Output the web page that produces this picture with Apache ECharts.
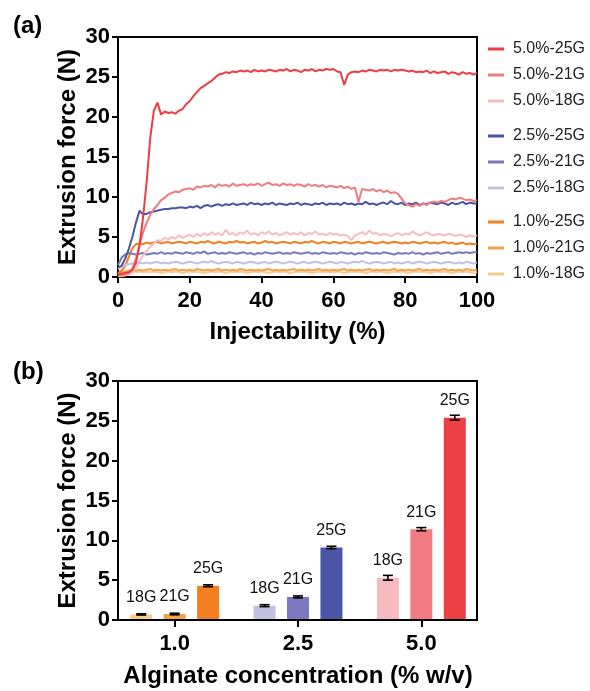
<!DOCTYPE html>
<html><head><meta charset="utf-8">
<script src="https://cdn.jsdelivr.net/npm/echarts@6/dist/echarts.min.js"></script>
<style>html,body{margin:0;padding:0;background:#fff}#c{width:590px;height:691px}</style>
</head><body><div id="c"></div>
<script>
const F = '"Liberation Sans", Arial, Helvetica, sans-serif';

// ---- Panel (a): extrusion force vs injectability (0..100 %, 1 % steps) ----
const injectability = Array.from({length: 101}, (_, i) => i);

const f50_25G = [0.3,0.4,0.5,0.6,0.9, 1.8,4.0,7.5,12.0,17.5, 20.8,21.8,20.3,20.7,20.5, 20.6,20.4,20.8,21.0,21.6,
 22.0,22.6,23.1,23.6,23.9, 24.2,24.5,24.9,25.3,25.4, 25.6,25.5,25.7,25.6,25.8, 25.7,25.8,25.6,25.9,25.7,
 25.8,25.7,25.9,25.8,25.7, 25.9,25.8,26.0,25.7,25.9, 25.8,25.6,25.9,25.8,26.0, 25.7,25.9,25.8,26.0,25.9,
 26.0,25.7,25.6,24.0,25.3, 25.6,25.7,25.6,25.8,25.7, 25.9,25.8,25.7,25.9,25.8, 25.9,25.7,25.9,25.8,25.9,
 25.8,25.7,25.8,25.6,25.7, 25.6,25.8,25.5,25.7,25.5, 25.6,25.7,25.4,25.6,25.5, 25.3,25.6,25.4,25.5,25.3, 25.5];
const f50_21G = [0.2,0.2,0.3,0.5,1.0, 2.3,4.0,5.6,6.8,7.8, 8.5,9.0,9.6,9.9,10.3, 10.5,10.7,10.6,10.9,11.0,
 11.1,10.9,11.3,11.2,11.4, 11.3,11.5,11.2,11.6,11.4, 11.5,11.3,11.7,11.4,11.5, 11.6,11.4,11.6,11.5,11.7,
 11.4,11.6,11.8,11.5,11.6, 11.4,11.7,11.5,11.6,11.4, 11.6,11.5,11.3,11.6,11.4, 11.5,11.3,11.5,11.2,11.4,
 11.3,11.2,11.4,11.1,11.3, 11.0,11.2,9.4,11.0,10.9, 10.8,11.0,10.7,10.9,10.6, 10.8,10.5,10.6,10.4,9.8,
 9.2,9.0,8.8,9.1,8.9, 9.2,9.0,9.3,9.4,9.3, 9.5,9.4,9.6,9.8,9.7, 9.9,9.8,9.6,9.7,9.5, 9.6];
const f50_18G = [0.1,0.1,0.2,0.3,0.6, 1.2,2.0,2.7,3.3,3.8, 4.2,4.6,4.5,4.9,4.7, 5.0,4.8,5.2,4.9,5.1,
 5.3,5.0,5.4,5.1,5.5, 5.2,5.6,5.3,5.5,5.2, 5.9,5.3,5.5,5.2,5.6, 5.4,5.8,5.3,5.5,5.2,
 5.6,5.4,5.7,5.3,5.5, 5.2,5.4,5.6,5.3,5.5, 5.3,5.6,5.2,5.5,5.4, 5.7,5.3,5.4,5.2,5.5,
 5.3,5.4,5.2,5.3,5.1, 4.6,5.2,5.4,5.6,5.3, 5.8,5.4,5.5,5.2,5.4, 5.3,5.1,5.3,5.5,5.2,
 5.4,5.3,5.7,5.4,5.2, 5.4,5.6,5.3,5.2,5.4, 5.3,5.2,5.4,5.3,5.1, 5.3,5.2,5.0,5.2,5.1, 5.2];
const f25_25G = [1.2,1.4,2.3,3.5,5.0, 6.8,8.3,7.8,7.9,8.1, 8.2,8.3,8.4,8.5,8.5, 8.6,8.6,8.7,8.7,8.6,
 8.8,8.7,8.9,8.6,8.9, 9.0,8.8,9.0,9.1,8.9, 9.1,9.0,9.2,9.0,9.1, 9.2,9.0,9.3,9.1,9.2,
 9.0,9.2,9.1,9.3,9.0, 9.2,9.1,9.0,9.2,9.1, 9.3,9.0,9.2,9.1,9.0, 9.2,9.1,9.3,9.0,9.2,
 9.1,9.2,9.0,9.3,9.1, 9.2,9.0,9.2,9.1,9.4, 9.1,9.2,9.0,9.2,9.3, 9.1,9.5,9.2,9.1,9.3,
 9.0,9.2,9.1,9.3,9.0, 9.2,9.1,9.3,9.2,9.1, 9.3,9.2,9.0,9.3,9.1, 9.2,9.4,9.1,9.3,9.2, 9.2];
const f25_21G = [1.5,2.4,2.8,3.0,2.9, 2.8,2.9,3.0,2.8,2.9, 3.0,2.9,3.1,2.9,3.0, 2.9,3.1,3.0,2.9,3.1,
 3.0,2.9,3.1,3.0,3.2, 2.9,3.0,3.1,2.9,3.0, 2.9,3.1,3.0,2.9,3.0, 3.1,2.9,3.0,2.8,3.0,
 2.9,3.1,3.0,2.9,3.0, 3.1,2.9,3.0,2.9,3.1, 3.0,2.9,3.0,3.1,2.9, 3.0,2.9,3.1,3.0,2.9,
 3.0,2.9,3.1,3.0,2.9, 3.0,2.8,3.0,2.9,3.1, 3.0,2.9,3.0,2.9,3.1, 3.0,2.9,2.8,3.0,2.9,
 3.0,2.9,3.1,2.9,3.0, 2.8,3.0,2.9,3.0,3.1, 2.9,3.0,3.1,2.9,3.0, 3.1,3.0,3.1,3.0,3.1, 3.1];
const f25_18G = [1.0,1.3,1.5,1.6,1.7, 1.7,1.8,1.7,1.8,1.7, 1.8,1.9,1.7,1.8,1.7, 1.8,1.9,1.8,1.7,1.8,
 1.9,1.8,1.7,1.8,1.9, 1.8,2.0,1.8,1.7,1.8, 1.9,1.8,1.7,1.9,1.8, 1.7,1.8,1.9,1.8,1.7,
 1.8,1.9,1.7,1.8,1.9, 1.8,1.7,1.8,1.9,1.8, 1.7,1.8,1.9,1.7,1.8, 1.9,1.8,1.7,1.8,1.9,
 1.8,1.7,1.9,1.8,1.7, 1.8,1.9,1.8,2.0,1.8, 1.7,1.8,1.9,1.8,1.7, 1.8,1.9,1.7,1.8,1.7,
 1.8,1.9,1.7,1.8,1.9, 1.8,1.7,1.8,1.9,1.8, 1.7,1.8,1.9,1.8,1.7, 1.8,1.7,1.9,1.8,1.7, 1.8];
const f10_25G = [0.5,0.8,1.4,2.5,3.6, 4.1,4.2,4.1,4.3,4.2, 4.3,4.4,4.2,4.3,4.4, 4.2,4.3,4.4,4.3,4.2,
 4.4,4.3,4.2,4.4,4.3, 4.5,4.3,4.2,4.4,4.3, 4.2,4.4,4.3,4.5,4.3, 4.4,4.2,4.3,4.4,4.2,
 4.3,4.5,4.3,4.4,4.2, 4.3,4.4,4.3,4.2,4.4, 4.3,4.2,4.4,4.3,4.5, 4.3,4.2,4.4,4.3,4.2,
 4.4,4.3,4.2,4.4,4.3, 4.2,4.3,4.4,4.2,4.3, 4.4,4.3,4.2,4.3,4.4, 4.2,4.3,4.4,4.3,4.2,
 4.3,4.2,4.4,4.3,4.2, 4.3,4.4,4.2,4.3,4.2, 4.3,4.4,4.2,4.3,4.1, 4.2,4.3,4.1,4.2,4.1, 4.2];
const f10_21G = [0.4,0.6,0.7,0.8,0.9, 0.8,0.9,0.8,0.9,1.0, 0.8,0.9,0.8,0.9,0.8, 0.9,1.0,0.8,0.9,0.8,
 0.9,0.8,1.0,0.9,0.8, 0.9,0.8,0.9,1.0,0.8, 0.9,0.8,0.9,0.8,1.0, 0.9,0.8,0.9,0.8,0.9,
 0.8,0.9,1.0,0.8,0.9, 0.8,0.9,0.8,0.9,1.0, 0.8,0.9,0.8,0.9,0.8, 0.9,1.0,0.8,0.9,0.8,
 0.9,0.8,0.9,1.0,0.8, 0.9,0.8,0.9,0.8,0.9, 1.0,0.8,0.9,0.8,0.9, 0.8,0.9,1.0,0.8,0.9,
 0.8,0.9,0.8,0.9,1.0, 0.8,0.9,0.8,0.9,0.8, 0.9,1.0,0.8,0.9,0.8, 0.9,0.8,1.0,0.9,0.8, 0.9];
const f10_18G = [0.3,0.5,0.6,0.6,0.7, 0.6,0.7,0.6,0.7,0.6, 0.7,0.6,0.5,0.6,0.7, 0.6,0.7,0.6,0.5,0.6,
 0.7,0.6,0.7,0.6,0.5, 0.6,0.7,0.6,0.7,0.6, 0.5,0.6,0.7,0.6,0.7, 0.6,0.5,0.6,0.7,0.6,
 0.7,0.6,0.5,0.6,0.7, 0.6,0.7,0.6,0.5,0.6, 0.7,0.6,0.7,0.6,0.5, 0.6,0.7,0.6,0.7,0.6,
 0.6,0.7,0.6,0.5,0.6, 0.7,0.6,0.7,0.6,0.5, 0.6,0.7,0.6,0.7,0.6, 0.5,0.6,0.7,0.6,0.7,
 0.6,0.5,0.6,0.7,0.6, 0.7,0.6,0.5,0.6,0.7, 0.6,0.7,0.6,0.5,0.6, 0.7,0.6,0.7,0.6,0.5, 0.6];

const lineNames  = ['5.0%-25G','5.0%-21G','5.0%-18G','2.5%-25G','2.5%-21G','2.5%-18G','1.0%-25G','1.0%-21G','1.0%-18G'];
const lineValues = [f50_25G, f50_21G, f50_18G, f25_25G, f25_21G, f25_18G, f10_25G, f10_21G, f10_18G];
const lineColors = ['#EE3D44','#F07B80','#F7BCC0','#4A55A5','#7A78C0','#C4C0E3','#F47E20','#F6A24C','#FBCB8F'];
const forceTicks = [0, 30, 5];      // min, max, step
const injTicks = [0, 100, 20];

// ---- Panel (b): mean extrusion force per concentration & gauge ----
const concentrations = ['1.0', '2.5', '5.0'];
const gauges = ['18G', '21G', '25G'];
const mean18G = [0.7, 1.8, 5.3];
const mean21G = [0.75, 2.9, 11.4];
const mean25G = [4.3, 9.1, 25.4];
const sd18G = [0.08, 0.12, 0.3];
const sd21G = [0.1, 0.12, 0.2];
const sd25G = [0.12, 0.15, 0.3];
const barColors18G = ['#FBC98E', '#C3C0E2', '#F7BBBF'];
const barColors21G = ['#F7A24A', '#7B79C0', '#F07B80'];
const barColors25G = ['#F47F21', '#4B56A6', '#EE3F45'];

const means = [mean18G, mean21G, mean25G];
const sds = [sd18G, sd21G, sd25G];
const barColors = [barColors18G, barColors21G, barColors25G];

const BAR_W = 22, BAR_GAP = 0.52;

const axisLineStyle = {show: true, lineStyle: {color: '#000', width: 2}};
const tickStyle = {show: true, length: 6, lineStyle: {color: '#000', width: 2}};
const tickLabel = {color: '#000', fontSize: 22, fontWeight: 'bold', fontFamily: F};
const nameStyle = {color: '#000', fontSize: 24, fontWeight: 'bold', fontFamily: F};

const lineSeries = lineNames.map((n, k) => ({
  name: n, type: 'line', xAxisIndex: 0, yAxisIndex: 0,
  data: injectability.map((x, i) => [x, lineValues[k][i]]),
  showSymbol: false, symbol: 'none',
  lineStyle: {width: 2, color: lineColors[k]},
  itemStyle: {color: lineColors[k]},
  z: 20 - k
}));

const barSeries = gauges.map((g, k) => ({
  name: g, type: 'bar', xAxisIndex: 1, yAxisIndex: 1,
  barWidth: BAR_W, barGap: (BAR_GAP * 100) + '%',
  data: means[k].map((v, i) => ({value: v, itemStyle: {color: barColors[k][i]}})),
  label: {show: true, position: 'top', distance: 9, formatter: g, fontSize: 16, color: '#111', fontFamily: F},
  z: 2
}));

const errData = [];
gauges.forEach((g, k) => means[k].forEach((v, i) => errData.push([i, v, sds[k][i], k])));

const errSeries = {
  type: 'custom', xAxisIndex: 1, yAxisIndex: 1, z: 5,
  encode: {x: 0, y: 1},
  data: errData,
  renderItem(params, api) {
    const i = api.value(0), v = api.value(1), e = api.value(2), k = api.value(3);
    const off = (k - 1) * BAR_W * (1 + BAR_GAP);
    const top = api.coord([i, v + e]), bot = api.coord([i, v - e]);
    const x = top[0] + off, hw = 5;
    const st = {stroke: '#000', lineWidth: 1.6};
    return {type: 'group', children: [
      {type: 'line', shape: {x1: x, y1: top[1], x2: x, y2: bot[1]}, style: st},
      {type: 'line', shape: {x1: x - hw, y1: top[1], x2: x + hw, y2: top[1]}, style: st},
      {type: 'line', shape: {x1: x - hw, y1: bot[1], x2: x + hw, y2: bot[1]}, style: st}
    ]};
  }
};

const chart = echarts.init(document.getElementById('c'), null, {renderer: 'canvas'});
chart.setOption({
  animation: false,
  backgroundColor: '#fff',
  title: [
    {text: '(a)', left: 8, top: 9, padding: 5, textStyle: {fontSize: 24, fontWeight: 'bold', color: '#000', fontFamily: F}},
    {text: '(b)', left: 8, top: 355, padding: 5, textStyle: {fontSize: 24, fontWeight: 'bold', color: '#000', fontFamily: F}}
  ],
  legend: [0, 1, 2].map(g => ({
    orient: 'vertical', left: 483, top: [36, 123, 209][g],
    itemWidth: 16, itemHeight: 3, itemGap: 10, icon: 'rect', selectedMode: false,
    data: lineNames.slice(g * 3, g * 3 + 3),
    textStyle: {fontSize: 16, color: '#222', fontFamily: F, padding: [0, 0, 0, 4]}
  })),
  grid: [
    {left: 118, top: 37, width: 359, height: 240, show: true, borderColor: '#000', borderWidth: 2, backgroundColor: 'transparent'},
    {left: 113, top: 381, width: 370, height: 239},
    {left: 118, top: 381, width: 359, height: 239, show: true, borderColor: '#000', borderWidth: 2, backgroundColor: 'transparent'}
  ],
  xAxis: [
    {gridIndex: 0, type: 'value', min: injTicks[0], max: injTicks[1], interval: injTicks[2],
     axisLine: axisLineStyle, axisTick: tickStyle, splitLine: {show: false},
     axisLabel: Object.assign({margin: 13}, tickLabel),
     name: 'Injectability (%)', nameLocation: 'middle', nameGap: 43, nameMoveOverlap: false, nameTextStyle: nameStyle},
    {gridIndex: 1, type: 'category', data: concentrations,
     axisLine: {show: false}, axisTick: {show: true, alignWithLabel: true, length: 7, lineStyle: {color: '#000', width: 2}},
     axisLabel: Object.assign({margin: 13}, tickLabel),
     name: 'Alginate concentration (% w/v)', nameLocation: 'middle', nameGap: 44, nameMoveOverlap: false, nameTextStyle: nameStyle},
    {gridIndex: 2, type: 'value', min: 0, max: 1, z: 10,
     axisLine: axisLineStyle, axisTick: {show: false}, axisLabel: {show: false}, splitLine: {show: false}}
  ],
  yAxis: [
    {gridIndex: 0, type: 'value', min: forceTicks[0], max: forceTicks[1], interval: forceTicks[2],
     axisLine: axisLineStyle, axisTick: tickStyle, splitLine: {show: false},
     axisLabel: Object.assign({margin: 8}, tickLabel),
     name: 'Extrusion force (N)', nameLocation: 'middle', nameGap: 38, nameMoveOverlap: false, nameTextStyle: nameStyle},
    {gridIndex: 1, type: 'value', min: forceTicks[0], max: forceTicks[1], interval: forceTicks[2], show: false},
    {gridIndex: 2, type: 'value', min: forceTicks[0], max: forceTicks[1], interval: forceTicks[2], z: 10,
     axisLine: axisLineStyle, axisTick: tickStyle, splitLine: {show: false},
     axisLabel: Object.assign({margin: 8}, tickLabel),
     name: 'Extrusion force (N)', nameLocation: 'middle', nameGap: 38, nameMoveOverlap: false, nameTextStyle: nameStyle}
  ],
  series: [...lineSeries, ...barSeries, errSeries]
});
</script></body></html>
